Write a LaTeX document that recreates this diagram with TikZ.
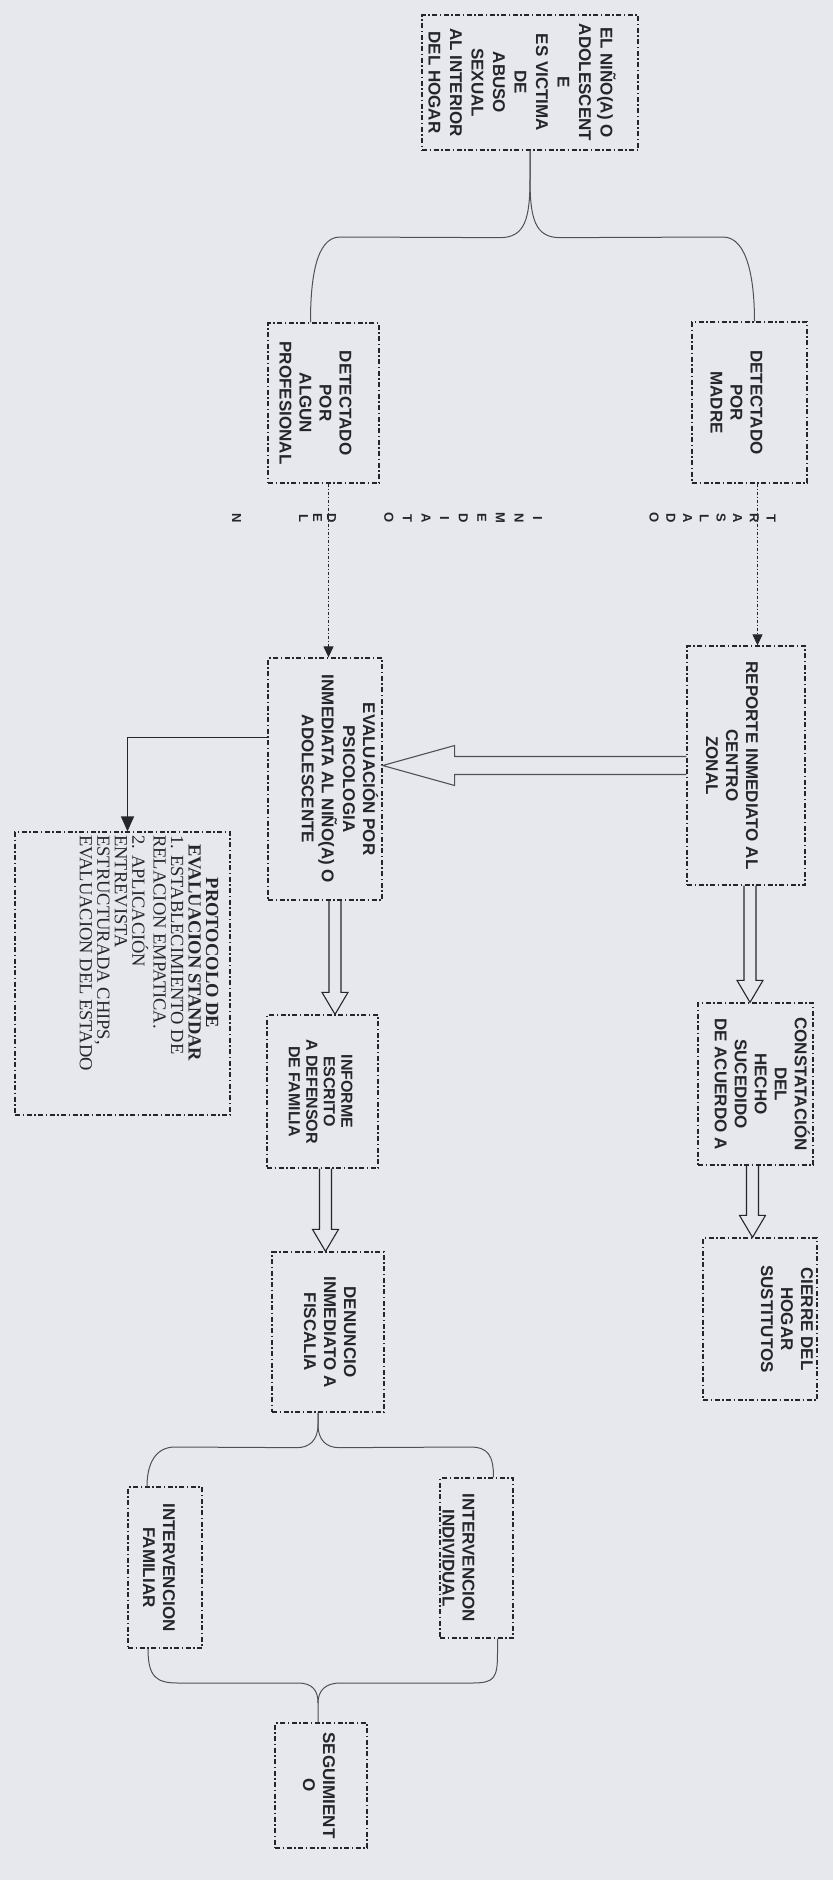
\documentclass[tikz,border=0pt]{standalone}
\usepackage{fontspec}
\setmainfont{Liberation Sans}
\newfontfamily\serifa{Liberation Serif}
\usetikzlibrary{arrows.meta,calc}

\definecolor{fondo}{RGB}{231,232,238}
\definecolor{tinta}{RGB}{38,38,42}
\definecolor{grisllave}{RGB}{80,80,86}

\tikzset{
  caja/.style={draw=tinta, line width=1.3pt, dash pattern=on 5pt off 2.5pt on 1.5pt off 2.5pt,
    inner sep=0pt, text=tinta, font=\bfseries\fontsize{17}{20}\selectfont},
  hueca/.style={draw=tinta, line width=1.1pt, line join=miter},
  punteada/.style={draw=tinta, line width=1pt, dash pattern=on 3pt off 2pt on 1pt off 2pt,
    -{Triangle[length=11pt,width=10pt]}},
  flecha/.style={draw=tinta, line width=1.6pt, -{Triangle[length=15pt,width=13pt]}},
  llave/.style={draw=grisllave, line width=1pt},
  letras/.style={inner sep=0pt, text=tinta},
}

% texto girado, lineas de derecha a izquierda
\newcommand{\girado}[2][0pt]{\kern#1\rotatebox{-90}{\begin{tabular}{@{}c@{}}#2\end{tabular}}\kern-#1}
% flecha hueca hacia abajo
\newcommand{\flechahueca}[3][0]{%
  \draw[hueca] let \p1=(#2.south), \p2=(#3.north) in
    (\x1+#1-6,\y1) -- (\x1+#1-6,\y2+22) -- (\x1+#1-13,\y2+22) -- (\x1+#1,\y2)
    -- (\x1+#1+13,\y2+22) -- (\x1+#1+6,\y2+22) -- (\x1+#1+6,\y1);}

\begin{document}
\begin{tikzpicture}[x=1pt,y=-1pt]
	\useasboundingbox (0,0) rectangle (833,1880);
	\fill[fondo] (0,0) rectangle (833,1880);

	\node[caja, minimum width=216pt, minimum height=135pt, font=\bfseries\fontsize{17}{21.5}\selectfont] (nino) at (530,82.5)
		{\girado[-11pt]{EL NIÑO(A) O\\ADOLESCENT\\E\\ES VICTIMA\\DE\\ABUSO\\SEXUAL\\AL INTERIOR\\DEL HOGAR}};
	\node[caja, minimum width=111pt, minimum height=160pt] (algun) at (323.5,403)
		{\girado[-10pt]{DETECTADO\\POR\\ALGUN\\PROFESIONAL}};
	\node[caja, minimum width=115pt, minimum height=161pt] (madre) at (749.5,402.5)
		{\girado[-15pt]{DETECTADO\\POR\\MADRE}};
	\node[caja, minimum width=118pt, minimum height=239pt] (rep) at (746,765.5)
		{\girado[-16pt]{REPORTE INMEDIATO AL\\CENTRO\\ZONAL}};
	\node[caja, minimum width=114pt, minimum height=242pt] (eval) at (325,779)
		{\girado[12pt]{EVALUACIÓN POR\\PSICOLOGIA\\INMEDIATA AL NIÑO(A) O\\ADOLESCENTE}};
	\node[caja, minimum width=115pt, minimum height=162pt] (const) at (755.5,1084)
		{\girado[4pt]{CONSTATACIÓN\\DEL\\HECHO\\SUCEDIDO\\DE ACUERDO A}};
	\node[caja, minimum width=114pt, minimum height=162pt] (cierre) at (760,1319)
		{\girado[25pt]{CIERRE DEL\\HOGAR\\SUSTITUTOS}};
	\node[caja, minimum width=111pt, minimum height=153pt, font=\bfseries\fontsize{16}{17.5}\selectfont] (informe) at (322.5,1091.5)
		{\girado[-4pt]{INFORME\\ESCRITO\\A DEFENSOR\\DE FAMILIA}};
	\node[caja, minimum width=112pt, minimum height=160pt] (denuncio) at (328,1332)
		{\girado{DENUNCIO\\INMEDIATO A\\FISCALIA}};
	\node[caja, minimum width=74pt, minimum height=161pt] (familiar) at (165,1567.5)
		{\girado[-8pt]{INTERVENCION\\FAMILIAR}};
	\node[caja, minimum width=73pt, minimum height=160pt] (individual) at (476.5,1558)
		{\girado[-20pt]{INTERVENCION\\INDIVIDUAL}};
	\node[caja, minimum width=92pt, minimum height=125pt] (seguim) at (321,1785.5)
		{\girado[-4pt]{SEGUIMIENT\\O}};

	% protocolo
	\node[caja, minimum width=215pt, minimum height=283pt] (proto) at (122.5,973.5) {};
	\node[letras, anchor=north, font=\serifa\fontsize{18.5}{17.5}\selectfont] (protoTxt) at (146.5,835)
		{\rotatebox{-90}{\begin{tabular}{@{}l@{}}
		\multicolumn{1}{@{}c@{}}{\bfseries PROTOCOLO DE}\\
		\multicolumn{1}{@{}c@{}}{\bfseries EVALUACION STANDAR}\\
		1. ESTABLECIMIENTO DE\\
		RELACION EMPATICA.\\
		2. APLICACIÓN\\
		ENTREVISTA\\
		ESTRUCTURADA CHIPS,\\
		EVALUACION DEL ESTADO
		\end{tabular}}};

	% letras sueltas del traslado
	\node[letras, font=\bfseries\fontsize{13}{16.7}\selectfont] (trasl) at (711.5,518)
		{\girado{T\\R\\A\\S\\L\\A\\D\\O}};
	\node[letras, font=\bfseries\fontsize{13}{18.6}\selectfont] (inmed) at (462.5,518)
		{\girado{I\\N\\M\\E\\D\\I\\A\\T\\O}};
	\node[letras, font=\bfseries\fontsize{13}{14}\selectfont] (del) at (316,518)
		{\girado{D\\E\\L}};
	\node[letras, font=\bfseries\fontsize{13}{14}\selectfont] (ene) at (235,518)
		{\girado{N}};

	% llaves
	\draw[llave] (nino.south) -- ++(0,28) .. controls +(0,40) and +(25,0) .. ++(-30,59)
		-- (340,237) .. controls +(-25,0) and +(0,-40) .. ([xshift=-13pt]algun.north);
	\draw[llave] (nino.south) -- ++(0,28) .. controls +(0,40) and +(-25,0) .. ++(30,59)
		-- (723,237) .. controls +(25,0) and +(0,-40) .. ([xshift=5pt]madre.north);
	\draw[llave] ([xshift=-10pt]denuncio.south) -- ++(0,12) .. controls +(0,16) and +(12,0) .. ++(-21,23)
		-- (175,1447) .. controls +(-20,0) and +(0,-22) .. ([xshift=-18pt]familiar.north);
	\draw[llave] ([xshift=-10pt]denuncio.south) -- ++(0,12) .. controls +(0,16) and +(-12,0) .. ++(21,23)
		-- (470,1447) .. controls +(18,0) and +(0,-22) .. ([xshift=17pt]individual.north);
	\draw[llave] ([xshift=-17pt]familiar.south) .. controls +(0,28) and +(-22,0) .. (178,1683)
		-- (298,1683) .. controls +(15,0) and +(0,-12) .. (318,1703) -- ([xshift=-3pt]seguim.north);
	\draw[llave] ([xshift=21pt]individual.south) -- ++(0,15) .. controls +(0,25) and +(22,0) .. (472,1683)
		-- (340,1683) .. controls +(-15,0) and +(0,-12) .. (318,1703);

	% conectores
	\draw[punteada] ([xshift=8pt]madre.south) -- ([xshift=8pt]madre.south |- rep.north);
	\draw[punteada] ([xshift=5pt]algun.south) -- ([xshift=5pt]algun.south |- eval.north);
	\draw[flecha] ($(eval.north west)!0.33!(eval.south west)$) -| ([xshift=5pt]proto.north);

	\flechahueca[4]{rep}{const}
	\flechahueca[-3]{const}{cierre}
	\flechahueca[10]{eval}{informe}
	\flechahueca[3]{informe}{denuncio}
	\draw[hueca, draw=grisllave] let \p1=(rep.west), \p2=(eval.east) in
		(\x1,\y1+9) -- (\x2+72,\y1+9) -- (\x2+72,\y1+20) -- (\x2,\y1)
		-- (\x2+72,\y1-20) -- (\x2+72,\y1-9) -- (\x1,\y1-9);
\end{tikzpicture}
\end{document}
